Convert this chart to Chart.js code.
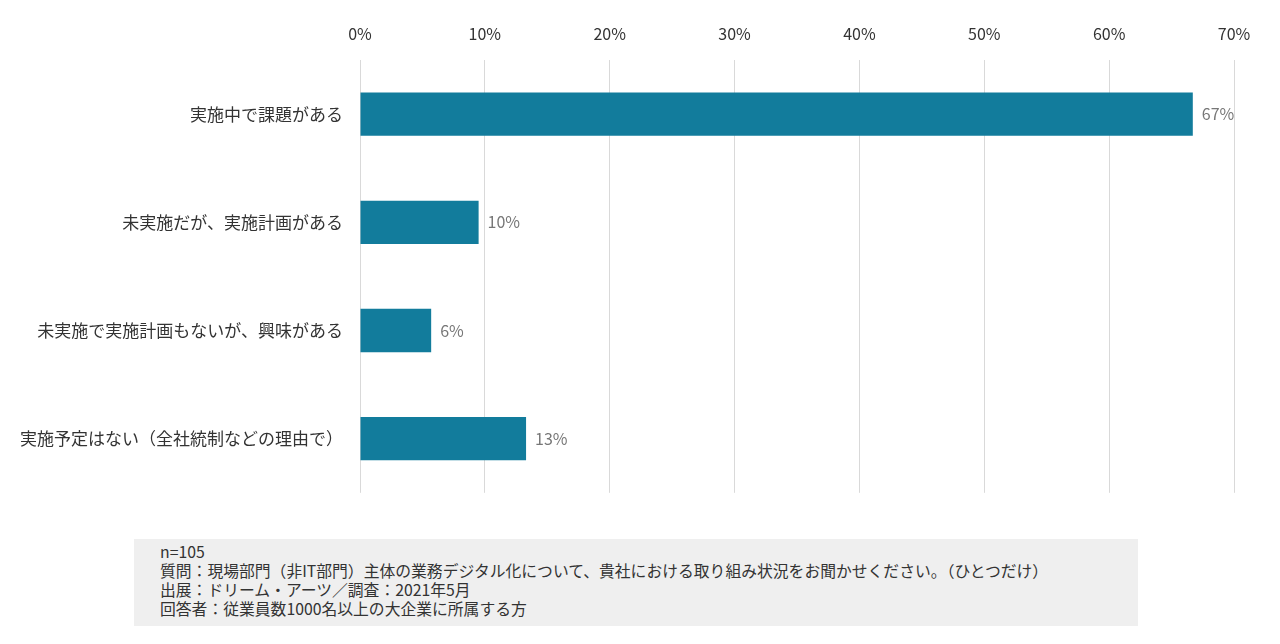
<!DOCTYPE html>
<html lang="ja">
<head>
<meta charset="utf-8">
<script src="https://cdn.jsdelivr.net/npm/chart.js@4/dist/chart.umd.min.js"></script>
<style>
  html, body { margin: 0; padding: 0; background: #fff; }
  body { width: 1280px; height: 644px; position: relative; overflow: hidden; font-family: "Noto Sans CJK JP", "Noto Sans", sans-serif; }
  #wrap { position: absolute; left: 0; top: 0; width: 1280px; height: 520px; }
  #note { position: absolute; left: 134px; top: 539px; width: 1004px; height: 87px; background: #efefef; box-sizing: border-box; padding: 3px 0 0 26px; font-size: 15.8px; line-height: 19px; color: #333; }
  #note div { white-space: nowrap; }
</style>
</head>
<body>
<div id="wrap"><canvas id="c"></canvas></div>
<div id="note">
  <div>n=105</div>
  <div>質問：現場部門（非IT部門）主体の業務デジタル化について、貴社における取り組み状況をお聞かせください。（ひとつだけ）</div>
  <div>出展：ドリーム・アーツ／調査：2021年5月</div>
  <div>回答者：従業員数1000名以上の大企業に所属する方</div>
</div>
<script>
const categories = ["実施中で課題がある", "未実施だが、実施計画がある", "未実施で実施計画もないが、興味がある", "実施予定はない（全社統制などの理由で）"];
const values = [66.7, 9.5, 5.7, 13.3];
const valueLabels = ["67%", "10%", "6%", "13%"];
const tickValues = [0, 10, 20, 30, 40, 50, 60, 70];

const FONT = '"Noto Sans CJK JP", "Noto Sans", sans-serif';

const valueLabelPlugin = {
  id: 'valueLabels',
  afterDatasetsDraw(chart) {
    const ctx = chart.ctx;
    const meta = chart.getDatasetMeta(0);
    ctx.save();
    ctx.font = '16px ' + FONT;
    ctx.fillStyle = '#777777';
    ctx.textAlign = 'left';
    ctx.textBaseline = 'middle';
    meta.data.forEach((bar, i) => {
      ctx.fillText(valueLabels[i], bar.x + 9, bar.y);
    });
    ctx.restore();
  }
};

new Chart(document.getElementById('c'), {
  type: 'bar',
  data: {
    labels: categories,
    datasets: [{
      data: values,
      backgroundColor: '#127c9c',
      borderWidth: 0,
      categoryPercentage: 1,
      barPercentage: 0.4
    }]
  },
  options: {
    indexAxis: 'y',
    responsive: true,
    maintainAspectRatio: false,
    animation: false,
    layout: { padding: { top: 0, right: 46, bottom: 17, left: 0 } },
    plugins: { legend: { display: false }, tooltip: { enabled: false } },
    scales: {
      x: {
        position: 'top',
        min: 0,
        max: 70,
        afterBuildTicks(scale) { scale.ticks = tickValues.map(v => ({ value: v })); },
        afterFit(scale) { scale.height = 60; },
        ticks: {
          callback: v => v + '%',
          font: { family: FONT, size: 16 },
          color: '#333333',
          padding: 16
        },
        grid: { color: '#d9d9d9', lineWidth: 1, drawTicks: false },
        border: { display: false }
      },
      y: {
        afterFit(scale) { scale.width = 360; },
        ticks: {
          font: { family: FONT, size: 17 },
          color: '#333333',
          padding: 17
        },
        grid: { display: false, drawTicks: false },
        border: { display: false }
      }
    }
  },
  plugins: [valueLabelPlugin]
});
</script>
</body>
</html>
